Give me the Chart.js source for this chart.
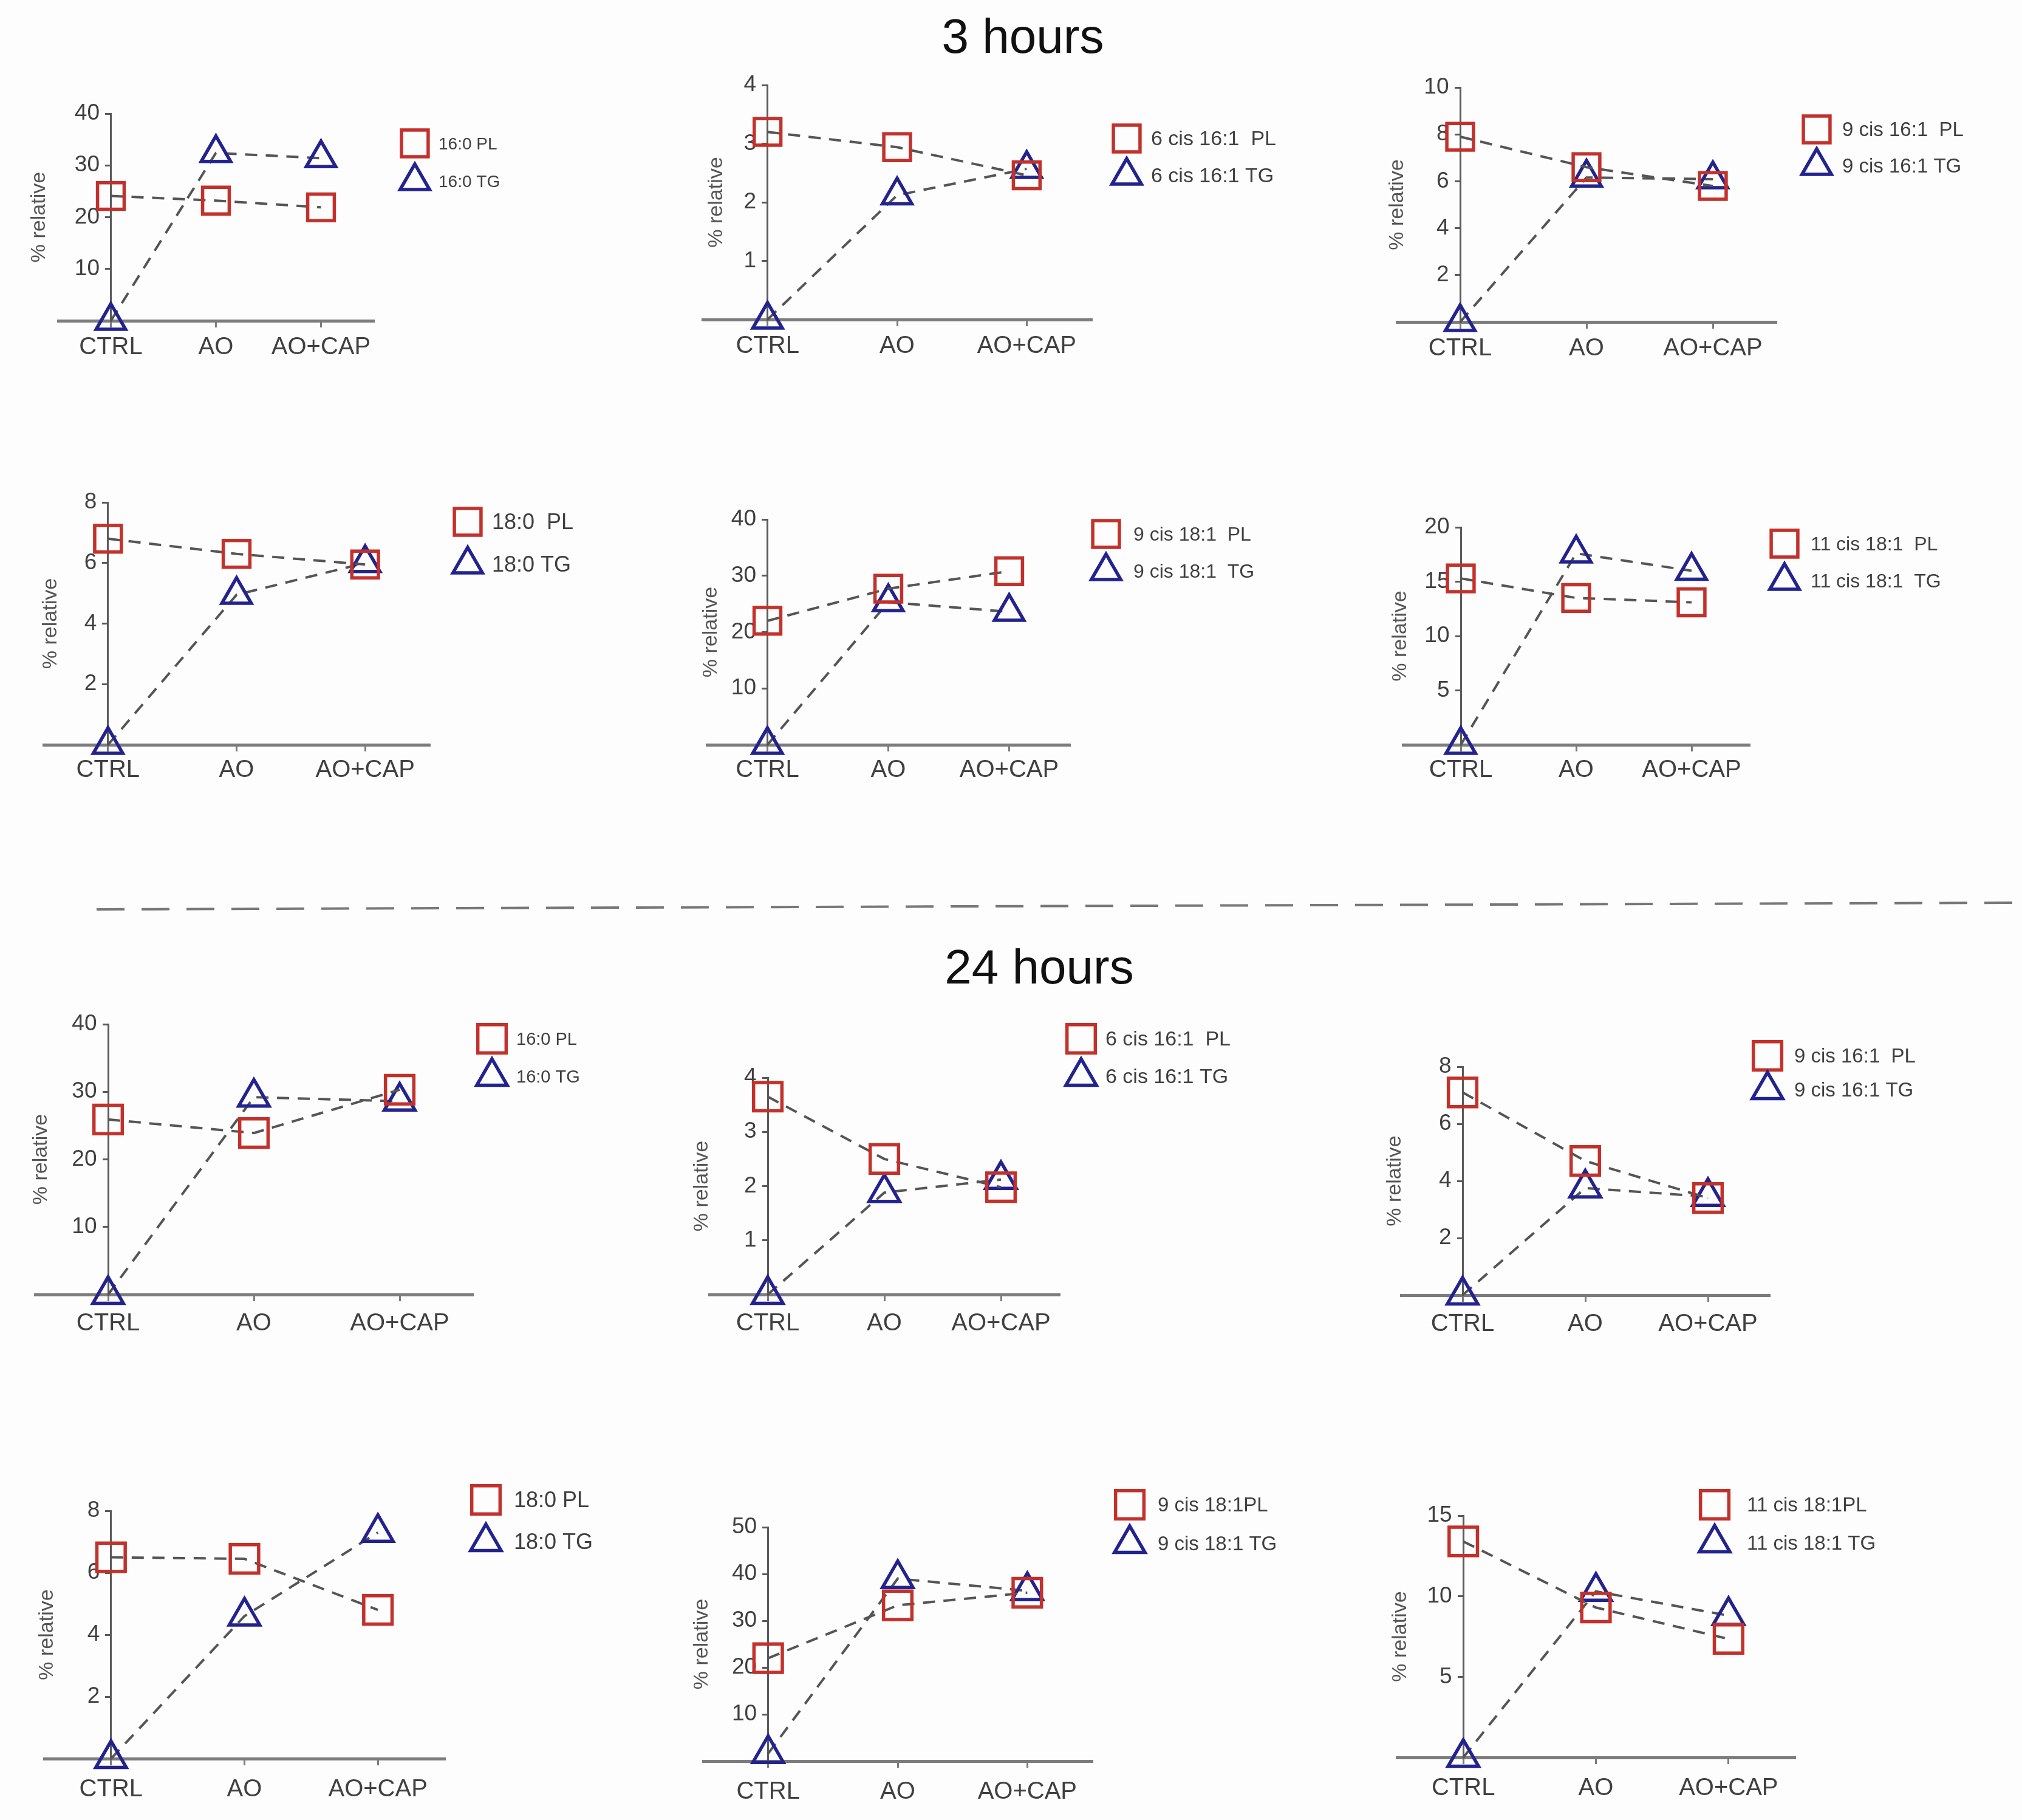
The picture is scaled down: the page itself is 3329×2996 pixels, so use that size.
<!DOCTYPE html>
<html>
<head>
<meta charset="utf-8">
<script src="https://cdn.jsdelivr.net/npm/chart.js@4.4.1/dist/chart.umd.min.js"></script>
<style>
html,body{margin:0;padding:0;background:#fdfdfd;}
#page{position:relative;width:3329px;height:2996px;overflow:hidden;font-family:"Liberation Sans",Arial,sans-serif;background:#fdfdfd;}
canvas{position:absolute;}
.hdr{position:absolute;font-size:80px;color:#111;transform:translate(-50%,-50%);white-space:nowrap;line-height:1;}
</style>
</head>
<body>
<div id="page">
<svg style="position:absolute;left:0;top:0;pointer-events:none" width="3329" height="2996">
  <line x1="159" y1="1497" x2="3329" y2="1486" stroke="#777" stroke-width="4" stroke-dasharray="46 28"/>
</svg>
<div class="hdr" style="left:1684px;top:60px">3 hours</div>
<div class="hdr" style="left:1711px;top:1592px">24 hours</div>
</div>
<script>
// ---------- DATA ----------
const categories = ['CTRL', 'AO', 'AO+CAP'];

// 3 hours
const pl3h_16_0   = [24.1, 23.2, 21.9];
const tg3h_16_0   = [0, 32.4, 31.4];
const pl3h_6c16_1 = [3.2, 2.94, 2.46];
const tg3h_6c16_1 = [0, 2.12, 2.57];
const pl3h_9c16_1 = [7.9, 6.6, 5.8];
const tg3h_9c16_1 = [0, 6.16, 6.09];
const pl3h_18_0   = [6.8, 6.3, 5.95];
const tg3h_18_0   = [0, 4.95, 6.0];
const pl3h_9c18_1 = [22.0, 27.7, 30.8];
const tg3h_9c18_1 = [0, 25.3, 23.6];
const pl3h_11c18_1 = [15.3, 13.5, 13.1];
const tg3h_11c18_1 = [0, 17.6, 16.0];
// 24 hours
const pl24h_16_0   = [25.9, 23.9, 30.3];
const tg24h_16_0   = [0, 29.2, 28.6];
const pl24h_6c16_1 = [3.65, 2.5, 1.98];
const tg24h_6c16_1 = [0, 1.88, 2.12];
const pl24h_9c16_1 = [7.1, 4.7, 3.4];
const tg24h_9c16_1 = [0, 3.75, 3.45];
const pl24h_18_0   = [6.5, 6.45, 4.8];
const tg24h_18_0   = [0, 4.6, 7.3];
const pl24h_9c18_1 = [22.0, 33.3, 36.0];
const tg24h_9c18_1 = [1.6, 39.0, 36.4];
const pl24h_11c18_1 = [13.4, 9.3, 7.35];
const tg24h_11c18_1 = [0, 10.3, 8.8];

const plNames = ['16:0 PL', '6 cis 16:1  PL', '9 cis 16:1  PL', '18:0  PL', '9 cis 18:1  PL', '11 cis 18:1  PL',
                 '16:0 PL', '6 cis 16:1  PL', '9 cis 16:1  PL', '18:0 PL', '9 cis 18:1PL', '11 cis 18:1PL'];
const tgNames = ['16:0 TG', '6 cis 16:1 TG', '9 cis 16:1 TG', '18:0 TG', '9 cis 18:1  TG', '11 cis 18:1  TG',
                 '16:0 TG', '6 cis 16:1 TG', '9 cis 16:1 TG', '18:0 TG', '9 cis 18:1 TG', '11 cis 18:1 TG'];
const plSeries = [pl3h_16_0, pl3h_6c16_1, pl3h_9c16_1, pl3h_18_0, pl3h_9c18_1, pl3h_11c18_1,
                  pl24h_16_0, pl24h_6c16_1, pl24h_9c16_1, pl24h_18_0, pl24h_9c18_1, pl24h_11c18_1];
const tgSeries = [tg3h_16_0, tg3h_6c16_1, tg3h_9c16_1, tg3h_18_0, tg3h_9c18_1, tg3h_11c18_1,
                  tg24h_16_0, tg24h_6c16_1, tg24h_9c16_1, tg24h_18_0, tg24h_9c18_1, tg24h_11c18_1];
const yMax  = [40, 4, 10, 8, 40, 20, 40, 4, 8, 8, 50, 15];
const yStep = [10, 1, 2, 2, 10, 5, 10, 1, 2, 2, 10, 5];
const yTitle = '% relative';

// ---------- LAYOUT (page pixels) ----------
const colBox = [[0, 1110], [1110, 2240], [2240, 3329]];
const rowBox = [[90, 660], [760, 1330], [1640, 2250], [2420, 2996]];
const XH = 95; // height reserved for x tick labels
const xLabelPad = [9, 7, 13, 16];  // per row
const layout = [
  {L: 96,   R: 615,  T: 187,  B: 528,  tx: 65,   leg: [683, 236],   gap: 62, dx: 39, lf: 28},
  {L: 1157, R: 1797, T: 140,  B: 526,  tx: 1180, leg: [1855, 228],  gap: 61, dx: 40, lf: 34},
  {L: 2300, R: 2924, T: 144,  B: 530,  tx: 2301, leg: [2991, 213],  gap: 60, dx: 42, lf: 33},
  {L: 72,   R: 707,  T: 827,  B: 1226, tx: 84,   leg: [770, 859],   gap: 70, dx: 40, lf: 36},
  {L: 1164, R: 1761, T: 855,  B: 1226, tx: 1171, leg: [1821, 879],  gap: 61, dx: 45, lf: 32},
  {L: 2310, R: 2880, T: 868,  B: 1226, tx: 2306, leg: [2938, 895],  gap: 61, dx: 43, lf: 32},
  {L: 58,   R: 778,  T: 1686, B: 2131, tx: 68,   leg: [810, 1710],  gap: 62, dx: 40, lf: 29},
  {L: 1168, R: 1744, T: 1774, B: 2131, tx: 1156, leg: [1780, 1710], gap: 62, dx: 40, lf: 34},
  {L: 2307, R: 2913, T: 1756, B: 2132, tx: 2297, leg: [2910, 1738], gap: 56, dx: 44, lf: 33},
  {L: 73,   R: 732,  T: 2487, B: 2895, tx: 78,   leg: [800, 2469],  gap: 69, dx: 46, lf: 36},
  {L: 1158, R: 1798, T: 2514, B: 2899, tx: 1156, leg: [1860, 2477], gap: 64, dx: 46, lf: 33},
  {L: 2300, R: 2955, T: 2495, B: 2893, tx: 2306, leg: [2823, 2477], gap: 63, dx: 53, lf: 33}
];

const FONT = '"Liberation Sans", Arial, Helvetica, sans-serif';
const RED = '#c3312b', BLUE = '#23238f', LINE = '#555555';
const XAXIS = '#7c7c7c', YAXIS = '#5a5a5a', TXT = '#404040';
Chart.defaults.font.family = FONT;

const legendPlugin = {
  id: 'panelLegend',
  afterDraw(chart, args, o) {
    const ctx = chart.ctx;
    chart.data.datasets.forEach((ds, k) => {
      const x = o.x, y = o.y + k * o.gap, r = ds.pointRadius;
      ctx.save();
      ctx.strokeStyle = ds.pointBorderColor;
      ctx.lineWidth = ds.pointBorderWidth;
      ctx.beginPath();
      if (ds.pointStyle === 'rect') {
        const s = r * Math.SQRT1_2;
        ctx.rect(x - s, y - s, 2 * s, 2 * s);
      } else {
        const a = 2 * Math.PI / 3;
        ctx.moveTo(x, y - r);
        ctx.lineTo(x + r * Math.sin(a), y - r * Math.cos(a));
        ctx.lineTo(x + r * Math.sin(2 * a), y - r * Math.cos(2 * a));
        ctx.closePath();
      }
      ctx.stroke();
      ctx.fillStyle = o.color;
      ctx.font = o.size + 'px ' + FONT;
      ctx.textBaseline = 'middle';
      ctx.textAlign = 'left';
      ctx.fillText(ds.label, x + o.dx, y + 2);
      ctx.restore();
    });
  }
};

const page = document.getElementById('page');
layout.forEach((p, i) => {
  const [bl, br] = colBox[i % 3];
  const row = Math.floor(i / 3);
  const [bt, bb] = rowBox[row];
  const cv = document.createElement('canvas');
  cv.width = br - bl; cv.height = bb - bt;
  cv.style.left = bl + 'px'; cv.style.top = bt + 'px';
  cv.style.width = (br - bl) + 'px'; cv.style.height = (bb - bt) + 'px';
  page.appendChild(cv);
  const tSize = 34, tLH = tSize * 1.2;
  const sqR = i < 6 ? 31 : 33, trR = i < 6 ? 28 : 29;
  new Chart(cv, {
    type: 'line',
    data: {
      labels: categories,
      datasets: [
        {label: plNames[i], data: plSeries[i], xAxisID: 'x', yAxisID: 'y',
         pointStyle: 'rect', pointRadius: sqR, pointHoverRadius: sqR, pointBorderWidth: 5.5,
         pointBorderColor: RED, pointBackgroundColor: 'rgba(0,0,0,0)',
         borderColor: LINE, borderWidth: 4, borderDash: [20, 14], fill: false, tension: 0, clip: false},
        {label: tgNames[i], data: tgSeries[i], xAxisID: 'x', yAxisID: 'y',
         pointStyle: 'triangle', pointRadius: trR, pointHoverRadius: trR, pointBorderWidth: 5.5,
         pointBorderColor: BLUE, pointBackgroundColor: 'rgba(0,0,0,0)',
         borderColor: LINE, borderWidth: 4, borderDash: [20, 14], fill: false, tension: 0, clip: false}
      ]
    },
    options: {
      responsive: false, animation: false, devicePixelRatio: 1, events: [],
      layout: {padding: {left: p.L - bl, right: br - p.R, top: p.T - bt, bottom: bb - p.B - XH}},
      scales: {
        x: {type: 'category', axis: 'x', position: 'bottom', offset: true,
            afterFit: s => { s.height = XH; },
            grid: {display: true, drawOnChartArea: false, drawTicks: true, tickLength: 11, color: XAXIS, lineWidth: 3},
            border: {display: true, color: XAXIS, width: 5},
            ticks: {color: TXT, font: {family: FONT, size: 40}, padding: xLabelPad[row], maxRotation: 0, autoSkip: false}},
        y: {type: 'linear', axis: 'y', position: {x: 0}, min: 0, max: yMax[i],
            grid: {display: true, drawOnChartArea: false, drawTicks: true, tickLength: 8, color: YAXIS, lineWidth: 3},
            border: {display: true, color: YAXIS, width: 3},
            ticks: {stepSize: yStep[i], color: TXT, font: {family: FONT, size: 37},
                    callback: v => (v === 0 ? null : String(v) + '\u2002')}},
        yt: {type: 'linear', axis: 'y', position: 'left', afterFit: s => { s.width = 0; },
             grid: {display: false}, border: {display: false}, ticks: {display: false},
             title: {display: true, text: yTitle, color: '#555', font: {family: FONT, size: tSize},
                     padding: {top: p.tx - p.L - tLH / 2, bottom: 0}}}
      },
      plugins: {
        legend: {display: false},
        tooltip: {enabled: false},
        panelLegend: {x: p.leg[0] - bl, y: p.leg[1] - bt, gap: p.gap, dx: p.dx, size: p.lf, color: TXT}
      }
    },
    plugins: [legendPlugin]
  });
});
</script>
</body>
</html>
